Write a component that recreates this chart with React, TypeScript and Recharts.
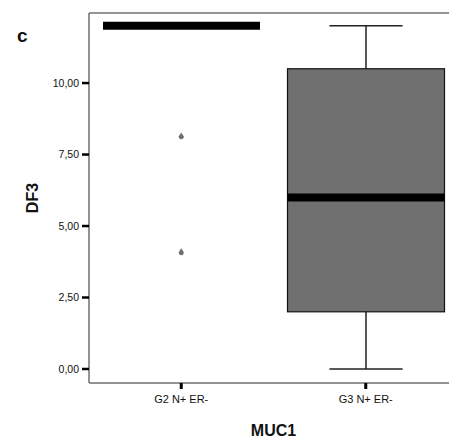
import React from 'react';
import { ComposedChart, Bar, Scatter, XAxis, YAxis, ReferenceLine } from 'recharts';

const categories = ['G2 N+ ER-', 'G3 N+ ER-'];
const mins = [12, 0];
const q1s = [12, 2];
const medians = [12, 6];
const q3s = [12, 10.5];
const maxs = [12, 12];
const outliersA: (number | null)[] = [8.15, null];
const outliersB: (number | null)[] = [4.1, null];
const yTicks = [0, 2.5, 5, 7.5, 10];
const yDomain: [number, number] = [-0.49, 12.45];

const data = categories.map((c, i) => ({
  cat: c,
  min: mins[i],
  q1: q1s[i],
  med: medians[i],
  q3: q3s[i],
  max: maxs[i],
  o1: outliersA[i],
  o2: outliersB[i],
  span: [yDomain[0], yDomain[1]],
}));

const FONT = 'Arial, "Liberation Sans", sans-serif';
const FRAME = '#6f6f6f';

const BoxShape = (props: any) => {
  const { x, y, width, height, payload } = props;
  const top = Math.min(y, y + height);
  const h = Math.abs(height);
  const py = (v: number) => top + (h * (yDomain[1] - v)) / (yDomain[1] - yDomain[0]);
  const cx = x + width / 2;
  const capHalf = width * 0.233;
  const yMin = py(payload.min);
  const yMax = py(payload.max);
  const yQ1 = py(payload.q1);
  const yQ3 = py(payload.q3);
  const yMed = py(payload.med);
  return (
    <g>
      <line x1={cx} x2={cx} y1={yMax} y2={yQ3} stroke="#222" strokeWidth={1.5} />
      <line x1={cx} x2={cx} y1={yQ1} y2={yMin} stroke="#222" strokeWidth={1.5} />
      <line x1={cx - capHalf} x2={cx + capHalf} y1={yMax} y2={yMax} stroke="#222" strokeWidth={1.5} />
      <line x1={cx - capHalf} x2={cx + capHalf} y1={yMin} y2={yMin} stroke="#222" strokeWidth={1.5} />
      <rect x={x} y={yQ3} width={width} height={Math.max(0, yQ1 - yQ3)} fill="#707070" stroke="#111" strokeWidth={1.2} />
      <line x1={x} x2={x + width} y1={yMed} y2={yMed} stroke="#000" strokeWidth={8} />
    </g>
  );
};

const Drop = (props: any) => {
  const { cx, cy } = props;
  if (cx == null || cy == null || isNaN(cy)) return <g />;
  return (
    <path
      d={`M${cx},${cy - 3.5} L${cx + 2.4},${cy + 0.2} A2.5,2.5 0 1,1 ${cx - 2.4},${cy + 0.2} Z`}
      fill="#6f6f6f"
    />
  );
};

const fmt = (v: number) => v.toFixed(2).replace('.', ',');

export default function App() {
  return (
    <div style={{ position: 'absolute', left: 0, top: 0, width: 449, height: 439, overflow: 'hidden', background: '#fff' }}>
      <ComposedChart
        width={470}
        height={439}
        data={data}
        margin={{ top: 13, right: 12, bottom: 0, left: 0 }}
        style={{ fontFamily: FONT }}
      >
        <XAxis
          dataKey="cat"
          type="category"
          height={56}
          axisLine={{ stroke: FRAME, strokeWidth: 1.5 }}
          tickLine={{ stroke: '#000', strokeWidth: 3 }}
          tickSize={6}
          tickMargin={6}
          tick={{ fill: '#111', fontSize: 11, fontFamily: FONT }}
          label={{
            content: (p: any) => {
              const vb = p.viewBox;
              return (
                <text x={vb.x + vb.width / 2} y={436} textAnchor="middle" fontFamily={FONT} fontWeight="bold" fontSize={16} fill="#111">
                  MUC1
                </text>
              );
            },
          }}
        />
        <YAxis
          type="number"
          domain={yDomain}
          ticks={yTicks}
          width={89}
          allowDataOverflow
          tickFormatter={fmt}
          axisLine={{ stroke: FRAME, strokeWidth: 1.5 }}
          tickLine={{ stroke: '#000', strokeWidth: 2.5 }}
          tickSize={7}
          tickMargin={3}
          tick={{ fill: '#111', fontSize: 10.5, fontFamily: FONT }}
          label={{
            content: (p: any) => {
              const vb = p.viewBox;
              const cy = vb.y + vb.height / 2;
              return (
                <text
                  x={32}
                  y={cy}
                  transform={`rotate(-90 32 ${cy})`}
                  textAnchor="middle"
                  dominantBaseline="central"
                  fontFamily={FONT}
                  fontWeight="bold"
                  fontSize={16}
                  fill="#111"
                >
                  DF3
                </text>
              );
            },
          }}
        />
        <ReferenceLine y={yDomain[1]} stroke={FRAME} strokeWidth={1.5} ifOverflow="extendDomain" />
        <Bar dataKey="span" barSize={157} shape={<BoxShape />} isAnimationActive={false} />
        <Scatter dataKey="o1" shape={<Drop />} isAnimationActive={false} />
        <Scatter dataKey="o2" shape={<Drop />} isAnimationActive={false} />
      </ComposedChart>
      <svg width={60} height={60} style={{ position: 'absolute', left: 0, top: 0, pointerEvents: 'none' }}>
        <text x={17} y={42} fontFamily={FONT} fontWeight="bold" fontSize={19} fill="#111">c</text>
      </svg>
    </div>
  );
}
